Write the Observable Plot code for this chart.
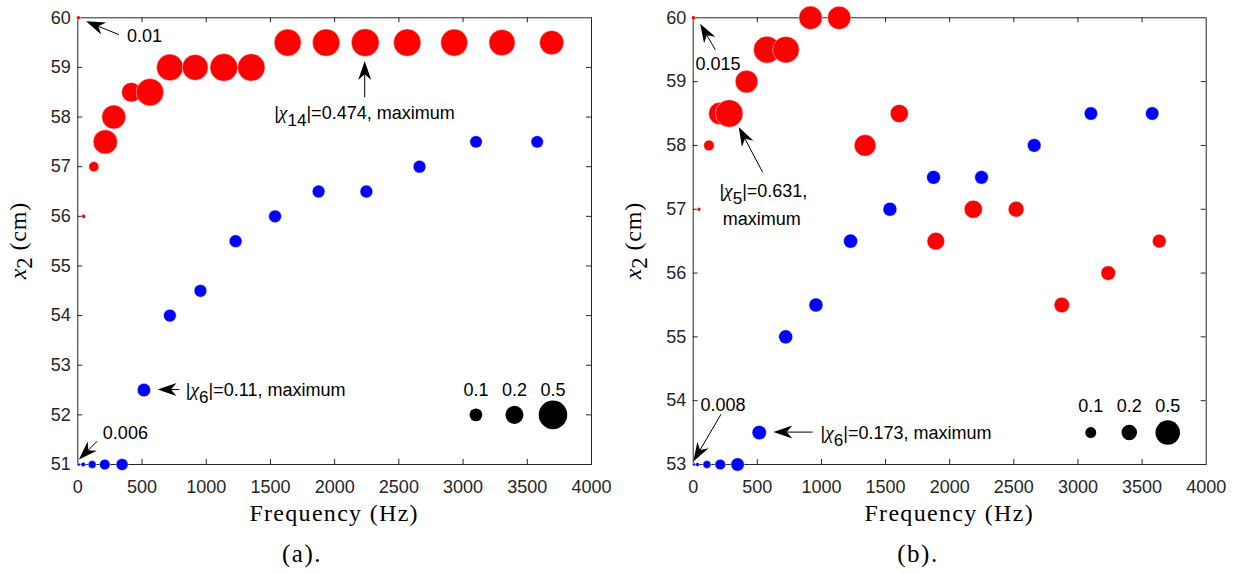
<!DOCTYPE html>
<html>
<head>
<meta charset="utf-8">
<script src="https://cdn.jsdelivr.net/npm/d3@7"></script>
<script src="https://cdn.jsdelivr.net/npm/@observablehq/plot@0.6"></script>
<style>
html, body { margin: 0; padding: 0; background: #fff; overflow: hidden; }
#wrap { display: flex; width: 1236px; height: 574px; }
#wrap svg { display: block; overflow: visible; }
</style>
</head>
<body>
<div id="wrap"></div>
<script>
// ---------- data ----------
const X_TICKS = [0, 500, 1000, 1500, 2000, 2500, 3000, 3500, 4000];
const Y_TICKS_A = [51, 52, 53, 54, 55, 56, 57, 58, 59, 60];
const Y_TICKS_B = [53, 54, 55, 56, 57, 58, 59, 60];
const LEGEND_VALUES = [0.1, 0.2, 0.5];
const LEGEND_FREQ = [3100, 3400, 3700];

// panel (a)
const freqA_red = [5, 45, 125, 214, 280, 417, 562, 717, 914, 1137, 1351, 1634, 1934, 2238, 2565, 2931, 3303, 3690];
const x2A_red   = [60, 56, 57, 57.5, 58, 58.5, 58.5, 59, 59, 59, 59, 59.5, 59.5, 59.5, 59.5, 59.5, 59.5, 59.5];
const chiA_red  = [0.01, 0.011, 0.063, 0.36, 0.35, 0.235, 0.46, 0.434, 0.41, 0.47, 0.46, 0.447, 0.46, 0.474, 0.46, 0.447, 0.42, 0.36];
const freqA_blue = [8, 42, 112, 210, 345, 515, 717, 955, 1229, 1536, 1875, 2247, 2661, 3101, 3577];
const x2A_blue   = [51, 51, 51, 51, 51, 52.5, 54, 54.5, 55.5, 56, 56.5, 56.5, 57, 57.5, 57.5];
const chiA_blue  = [0.006, 0.013, 0.039, 0.069, 0.088, 0.11, 0.1, 0.1, 0.1, 0.1, 0.1, 0.1, 0.1, 0.095, 0.095];

// panel (b)
const freqB_red = [2, 45, 123, 208, 281, 416, 575, 723, 915, 1138, 1340, 1607, 1892, 2184, 2518, 2874, 3236, 3634];
const x2B_red   = [60, 57, 58, 58.5, 58.5, 59, 59.5, 59.5, 60, 60, 58, 58.5, 56.5, 57, 57, 55.5, 56, 56.5];
const chiB_red  = [0.015, 0.012, 0.094, 0.42, 0.631, 0.43, 0.6, 0.59, 0.455, 0.45, 0.39, 0.275, 0.26, 0.275, 0.21, 0.2, 0.18, 0.16];
const freqB_blue = [8, 34, 107, 211, 346, 515, 721, 957, 1227, 1534, 1874, 2248, 2659, 3101, 3579];
const x2B_blue   = [53, 53, 53, 53, 53, 53.5, 55, 55.5, 56.5, 57, 57.5, 57.5, 58, 58.5, 58.5];
const chiB_blue  = [0.008, 0.013, 0.053, 0.094, 0.15, 0.173, 0.165, 0.165, 0.165, 0.16, 0.16, 0.155, 0.155, 0.15, 0.15];

// annotations (data coordinates)
const arrowsA = [
  {x1: 324, y1: 59.65, x2: 68, y2: 59.92},
  {x1: 2238, y1: 58.39, x2: 2238, y2: 59.12},
  {x1: 795, y1: 52.5, x2: 625, y2: 52.5},
  {x1: 155, y1: 51.46, x2: 12, y2: 51.09}
];
const notesA = [
  {x: 387, y: 59.63, segs: [{t: "0.01"}]},
  {x: 1533, y: 58.09, segs: [{t: "|"}, {t: "χ", chi: true}, {t: "14", sub: true}, {t: "|=0.474, maximum"}]},
  {x: 845, y: 52.5, segs: [{t: "|"}, {t: "χ", chi: true}, {t: "6", sub: true}, {t: "|=0.11, maximum"}]},
  {x: 199, y: 51.64, segs: [{t: "0.006"}]}
];
const arrowsB = [
  {x1: 177, y1: 59.49, x2: 58, y2: 59.9},
  {x1: 546, y1: 57.57, x2: 359, y2: 58.28},
  {x1: 935, y1: 53.5, x2: 629, y2: 53.5},
  {x1: 221, y1: 53.78, x2: 5, y2: 53.04}
];
const notesB = [
  {x: 21, y: 59.28, segs: [{t: "0.015"}]},
  {x: 208, y: 57.28, segs: [{t: "|"}, {t: "χ", chi: true}, {t: "5", sub: true}, {t: "|=0.631,"}]},
  {x: 234, y: 56.84, segs: [{t: "maximum"}]},
  {x: 997, y: 53.5, segs: [{t: "|"}, {t: "χ", chi: true}, {t: "6", sub: true}, {t: "|=0.173, maximum"}]},
  {x: 61, y: 53.93, segs: [{t: "0.008"}]}
];

// ---------- helpers ----------
const NS = "http://www.w3.org/2000/svg";
const SANS = "'Liberation Sans', Arial, Helvetica, sans-serif";
const SERIF = "'Liberation Serif', 'Times New Roman', serif";
const AXIS = "#262626";
const FS = 18;

function rows(f, x2, chi) { return f.map((d, i) => ({f: d, x2: x2[i], chi: chi[i]})); }

function richText(x, y, segs, {anchor = "start", size = FS, rotate = 0, family = SANS, subShift = 7} = {}) {
  const t = document.createElementNS(NS, "text");
  t.setAttribute("transform", `translate(${x},${y})` + (rotate ? ` rotate(${rotate})` : ""));
  t.setAttribute("text-anchor", anchor);
  t.setAttribute("font-size", size);
  t.setAttribute("font-family", family);
  t.setAttribute("fill", "black");
  let shifted = false;
  for (const s of segs) {
    const ts = document.createElementNS(NS, "tspan");
    ts.textContent = s.t;
    if (s.chi) { ts.setAttribute("font-family", SERIF); ts.setAttribute("font-style", "italic"); ts.setAttribute("font-size", size * 1.08); }
    if (s.italic) ts.setAttribute("font-style", "italic");
    if (s.sub) { ts.setAttribute("dy", subShift); ts.setAttribute("font-size", size * 0.95); shifted = true; }
    else if (shifted) { ts.setAttribute("dy", -subShift); shifted = false; }
    if (s.ls) ts.setAttribute("letter-spacing", s.ls);
    t.appendChild(ts);
  }
  return t;
}

function arrowMark(arrows) {
  return (index, scales) => {
    const g = document.createElementNS(NS, "g");
    const L = 19, W = 13, notch = 0.7;
    for (const a of arrows) {
      const px1 = scales.x(a.x1), py1 = scales.y(a.y1);
      const px2 = scales.x(a.x2), py2 = scales.y(a.y2);
      const dx = px2 - px1, dy = py2 - py1, len = Math.hypot(dx, dy);
      const ux = dx / len, uy = dy / len, nx = -uy, ny = ux;
      const bx = px2 - ux * L, by = py2 - uy * L;
      const mx = px2 - ux * L * notch, my = py2 - uy * L * notch;
      const line = document.createElementNS(NS, "line");
      line.setAttribute("x1", px1); line.setAttribute("y1", py1);
      line.setAttribute("x2", mx); line.setAttribute("y2", my);
      line.setAttribute("stroke", "black"); line.setAttribute("stroke-width", 1);
      g.appendChild(line);
      const p = document.createElementNS(NS, "path");
      p.setAttribute("d", `M${px2},${py2}L${bx + nx * W / 2},${by + ny * W / 2}L${mx},${my}L${bx - nx * W / 2},${by - ny * W / 2}Z`);
      p.setAttribute("fill", "black");
      g.appendChild(p);
    }
    return g;
  };
}

function notesMark(notes) {
  return (index, scales) => {
    const g = document.createElementNS(NS, "g");
    for (const n of notes) g.appendChild(richText(scales.x(n.x), scales.y(n.y) + 6.5, n.segs));
    return g;
  };
}

function labelsMark(caption, frameLeft, frameRight, frameTop, frameBottom) {
  return () => {
    const g = document.createElementNS(NS, "g");
    const cx = (frameLeft + frameRight) / 2;
    const cy = (frameTop + frameBottom) / 2;
    g.appendChild(richText(cx, frameBottom + 57, [{t: "Frequency (Hz)", ls: "1.3px"}], {anchor: "middle", size: 24, family: SERIF}));
    g.appendChild(richText(frameLeft - 51.5, cy, [{t: "x", italic: true}, {t: "2", sub: true}, {t: " (cm)", ls: "0.8px"}], {anchor: "middle", size: 24, family: SERIF, rotate: -90, subShift: 6}));
    g.appendChild(richText(caption.x, 562, [{t: caption.t, ls: "1.5px"}], {anchor: "middle", size: 25, family: SERIF}));
    return g;
  };
}

function panel({red, blue, yDomain, yTicks, r05, arrows, notes, legendY, legendLabelY, marginLeft, marginRight, caption}) {
  const width = 618, height = 574, marginTop = 17.3, marginBottom = 110;
  const fw = width - marginLeft - marginRight, fh = height - marginTop - marginBottom;
  const inner = X_TICKS.slice(1, -1), innerY = yTicks.slice(1, -1);
  const legend = LEGEND_VALUES.map((v, i) => ({v, f: LEGEND_FREQ[i]}));
  return Plot.plot({
    width, height, marginLeft, marginRight, marginTop, marginBottom,
    x: {domain: [0, 4000]},
    y: {domain: yDomain},
    r: {type: "sqrt", domain: [0, 0.5], range: [0, r05]},
    style: {fontFamily: SANS, fontSize: FS + "px", color: AXIS, background: "white", overflow: "visible"},
    marks: [
      Plot.ruleX(inner, {x: d => d, stroke: AXIS, insetTop: fh - 5}),
      Plot.ruleX(inner, {x: d => d, stroke: AXIS, insetBottom: fh - 5}),
      Plot.ruleY(innerY, {y: d => d, stroke: AXIS, insetRight: fw - 5}),
      Plot.ruleY(innerY, {y: d => d, stroke: AXIS, insetLeft: fw - 5}),
      Plot.frame({stroke: AXIS, strokeWidth: 1}),
      Plot.axisX(X_TICKS, {tickSize: 0, tickPadding: 15.5, tickFormat: d => String(d), label: null, fill: AXIS, fontSize: FS}),
      Plot.axisY(yTicks, {tickSize: 0, tickPadding: 7, tickFormat: d => String(d), label: null, fill: AXIS, fontSize: FS}),
      Plot.dot(red, {x: "f", y: "x2", r: "chi", fill: "#ff0000", stroke: "white", strokeWidth: 0.5, sort: null}),
      Plot.dot(blue, {x: "f", y: "x2", r: "chi", fill: "#0000ff", stroke: "white", strokeWidth: 0.5, sort: null}),
      Plot.dot(legend, {x: "f", y: () => legendY, r: "v", fill: "black", sort: null}),
      Plot.text(legend, {x: "f", y: () => legendLabelY, text: d => String(d.v), fill: "black", fontSize: FS}),
      arrowMark(arrows),
      notesMark(notes),
      labelsMark(caption, marginLeft, width - marginRight, marginTop, height - marginBottom)
    ]
  });
}

const wrap = document.getElementById("wrap");
wrap.appendChild(panel({
  red: rows(freqA_red, x2A_red, chiA_red),
  blue: rows(freqA_blue, x2A_blue, chiA_blue),
  yDomain: [51, 60], yTicks: Y_TICKS_A, r05: 14.3,
  arrows: arrowsA, notes: notesA, legendY: 52, legendLabelY: 52.5,
  marginLeft: 77.3, marginRight: 27, caption: {t: "(a).", x: 302}
}));
wrap.appendChild(panel({
  red: rows(freqB_red, x2B_red, chiB_red),
  blue: rows(freqB_blue, x2B_blue, chiB_blue),
  yDomain: [53, 60], yTicks: Y_TICKS_B, r05: 12.25,
  arrows: arrowsB, notes: notesB, legendY: 53.5, legendLabelY: 53.91,
  marginLeft: 74.7, marginRight: 30.3, caption: {t: "(b).", x: 300}
}));
</script>
</body>
</html>
